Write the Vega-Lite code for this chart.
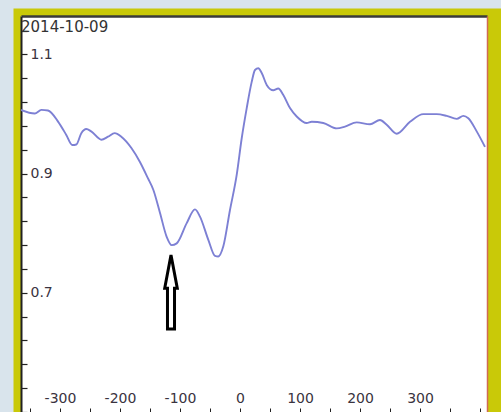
{
  "$schema": "https://vega.github.io/schema/vega-lite/v6.json",
  "width": 466,
  "height": 396,
  "autosize": {"type": "none"},
  "padding": {"left": 21, "top": 16, "right": 14, "bottom": 0},
  "background": "#c9c908",
  "title": {"text": "2014-10-09", "anchor": "start", "frame": "group", "offset": -42.5, "font": "DejaVu Sans", "fontSize": 15, "fontWeight": "normal", "color": "#333333"},
  "config": {
    "view": {"stroke": null, "fill": "white"},
    "axis": {"grid": false, "title": null}
  },
  "datasets": {
    "series": [
      {"x": -365, "y": 1.007}, {"x": -342, "y": 1.001}, {"x": -331, "y": 1.007}, {"x": -320, "y": 1.006},
      {"x": -303, "y": 0.987}, {"x": -289.5, "y": 0.965}, {"x": -279.5, "y": 0.948}, {"x": -272.8, "y": 0.949},
      {"x": -264.5, "y": 0.968}, {"x": -256.2, "y": 0.975}, {"x": -248, "y": 0.971}, {"x": -231, "y": 0.957},
      {"x": -220, "y": 0.962}, {"x": -208.8, "y": 0.968}, {"x": -197.8, "y": 0.962}, {"x": -181, "y": 0.943},
      {"x": -167, "y": 0.920}, {"x": -153.3, "y": 0.892}, {"x": -144.5, "y": 0.873}, {"x": -133.3, "y": 0.834},
      {"x": -122.2, "y": 0.794}, {"x": -113.8, "y": 0.780}, {"x": -105.5, "y": 0.783}, {"x": -88.8, "y": 0.817},
      {"x": -75, "y": 0.840}, {"x": -66.7, "y": 0.828}, {"x": -52.8, "y": 0.789}, {"x": -41.7, "y": 0.762},
      {"x": -36.2, "y": 0.761}, {"x": -27.8, "y": 0.778}, {"x": -16.7, "y": 0.839}, {"x": -5.5, "y": 0.898},
      {"x": 2.8, "y": 0.959}, {"x": 11.2, "y": 1.010}, {"x": 19.5, "y": 1.054}, {"x": 25, "y": 1.074},
      {"x": 30.5, "y": 1.077}, {"x": 36.2, "y": 1.069}, {"x": 44.5, "y": 1.049}, {"x": 55.5, "y": 1.040},
      {"x": 63.8, "y": 1.043}, {"x": 72.2, "y": 1.032}, {"x": 83.3, "y": 1.010}, {"x": 94.5, "y": 0.996},
      {"x": 111.2, "y": 0.985}, {"x": 119.5, "y": 0.987}, {"x": 138.8, "y": 0.985}, {"x": 161.2, "y": 0.976},
      {"x": 175, "y": 0.979}, {"x": 194.5, "y": 0.986}, {"x": 216.7, "y": 0.983}, {"x": 233.3, "y": 0.990},
      {"x": 244.5, "y": 0.982}, {"x": 261.2, "y": 0.967}, {"x": 283.3, "y": 0.987}, {"x": 305.5, "y": 1.000},
      {"x": 327.8, "y": 1.000}, {"x": 344.5, "y": 0.997}, {"x": 361.2, "y": 0.992}, {"x": 372.2, "y": 0.997},
      {"x": 380.5, "y": 0.993}, {"x": 394.5, "y": 0.971}, {"x": 408.3, "y": 0.945}
    ],
    "marker": [{"x": -115, "y": 0.7015}]
  },
  "layer": [
    {
      "data": {"name": "marker"},
      "mark": {"type": "point", "opacity": 0, "size": 1},
      "encoding": {
        "x": {"field": "x", "type": "quantitative", "axis": {"orient": "top", "offset": 24, "labels": false, "ticks": false, "domainColor": "#d9e4ec", "domainWidth": 32, "domainCap": "square"}},
        "y": {"field": "y", "type": "quantitative", "axis": {"orient": "left", "offset": 29, "labels": false, "ticks": false, "domainColor": "#d9e4ec", "domainWidth": 42, "domainCap": "square"}}
      }
    },
    {
      "data": {"name": "series"},
      "mark": {"type": "line", "color": "#7d80d4", "strokeWidth": 1.9, "interpolate": "monotone", "clip": true},
      "encoding": {
        "x": {
          "field": "x", "type": "quantitative",
          "scale": {"domain": [-365, 411.67], "nice": false, "zero": false},
          "axis": {
            "orient": "bottom",
            "values": [-350, -300, -250, -200, -150, -100, -50, 0, 50, 100, 150, 200, 250, 300, 350, 400],
            "labelExpr": "datum.value % 100 == 0 && datum.value < 400 ? '' + datum.value : ''",
            "tickSize": -4, "labelPadding": -10, "labelBaseline": "middle", "labelDx": -2,
            "labelFlush": false, "labelOverlap": false,
            "domainColor": "#222222", "tickColor": "#222222", "labelColor": "#3a3340",
            "labelFont": "DejaVu Sans", "labelFontSize": 14
          }
        },
        "y": {
          "field": "y", "type": "quantitative",
          "scale": {"domain": [0.5, 1.1646], "nice": false, "zero": false},
          "axis": {
            "orient": "left",
            "values": [0.5, 0.54, 0.58, 0.62, 0.66, 0.7, 0.74, 0.78, 0.82, 0.86, 0.9, 0.94, 0.98, 1.02, 1.06, 1.1, 1.14],
            "labelExpr": "datum.value == 0.7 ? '0.7' : datum.value == 0.9 ? '0.9' : datum.value == 1.1 ? '1.1' : ''",
            "tickSize": -6, "labelPadding": -3, "labelAlign": "left", "labelBaseline": "middle",
            "labelFlush": false, "labelOverlap": false,
            "domainColor": "#222222", "domainWidth": 2, "tickColor": "#222222", "tickWidth": 1.2, "labelColor": "#3a3340",
            "labelFont": "DejaVu Sans", "labelFontSize": 14
          }
        }
      }
    },
    {
      "data": {"name": "marker"},
      "mark": {
        "type": "point",
        "shape": "M0,-1 L0.17,-0.1 L0.095,-0.1 L0.095,1 L-0.095,1 L-0.095,-0.1 L-0.17,-0.1 Z",
        "size": 5476, "filled": true, "fill": "white", "stroke": "black", "strokeWidth": 3, "opacity": 1
      },
      "encoding": {
        "x": {"field": "x", "type": "quantitative", "axis": {"orient": "top", "labels": false, "ticks": false, "domainColor": "#3a3a3a", "domainWidth": 2.5}},
        "y": {"field": "y", "type": "quantitative", "axis": {"orient": "right", "labels": false, "ticks": false, "domainColor": "#d06a55", "domainWidth": 1.5}}
      }
    }
  ],
  "resolve": {"axis": {"x": "independent", "y": "independent"}}
}
